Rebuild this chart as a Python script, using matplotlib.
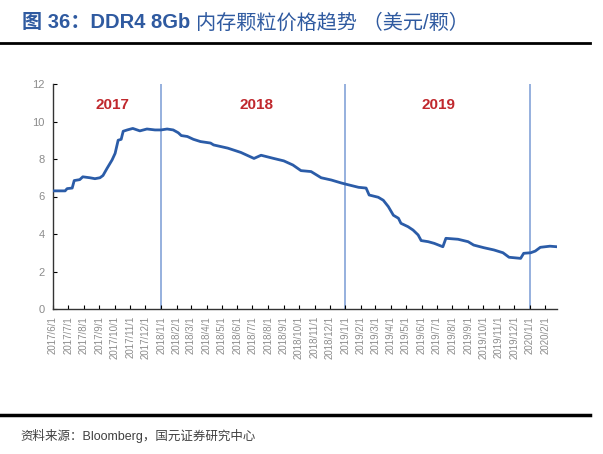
import matplotlib
matplotlib.use("Agg")
import matplotlib.pyplot as plt
import pandas as pd

plt.rcParams['font.family'] = ['Liberation Sans', 'Noto Sans CJK SC', 'DejaVu Sans']

dates = ["2017-06-01", "2017-06-25", "2017-06-29", "2017-07-09", "2017-07-13", "2017-07-24",
         "2017-07-30", "2017-08-13", "2017-08-23", "2017-09-02", "2017-09-08", "2017-09-16",
         "2017-09-26", "2017-10-02", "2017-10-08", "2017-10-14", "2017-10-18", "2017-10-26",
         "2017-11-06", "2017-11-20", "2017-12-04", "2017-12-20", "2018-01-01", "2018-01-13",
         "2018-01-25", "2018-02-04", "2018-02-10", "2018-02-22", "2018-03-06", "2018-03-20",
         "2018-04-09", "2018-04-15", "2018-05-13", "2018-06-08", "2018-07-04", "2018-07-18",
         "2018-08-12", "2018-09-01", "2018-09-19", "2018-10-05", "2018-10-25", "2018-11-14",
         "2018-12-04", "2018-12-24", "2019-01-03", "2019-01-27", "2019-02-11", "2019-02-17",
         "2019-03-07", "2019-03-17", "2019-03-27", "2019-04-06", "2019-04-16", "2019-04-21",
         "2019-05-05", "2019-05-15", "2019-05-25", "2019-05-31", "2019-06-14", "2019-06-26",
         "2019-07-13", "2019-07-19", "2019-08-12", "2019-09-01", "2019-09-12", "2019-10-02",
         "2019-10-22", "2019-11-09", "2019-11-21", "2019-12-14", "2019-12-20", "2020-01-03",
         "2020-01-12", "2020-01-22", "2020-02-10", "2020-02-24"]
prices = [6.30, 6.30, 6.42, 6.45, 6.85, 6.90,
          7.05, 7.00, 6.95, 7.00, 7.12, 7.50,
          7.95, 8.30, 9.00, 9.05, 9.48, 9.55,
          9.63, 9.50, 9.60, 9.55, 9.55, 9.60,
          9.55, 9.40, 9.25, 9.20, 9.05, 8.93,
          8.85, 8.75, 8.58, 8.35, 8.03, 8.20,
          8.03, 7.90, 7.68, 7.38, 7.33, 7.00,
          6.88, 6.72, 6.65, 6.49, 6.45, 6.08,
          5.96, 5.80, 5.46, 5.00, 4.84, 4.57,
          4.39, 4.21, 3.95, 3.65, 3.59, 3.50,
          3.32, 3.77, 3.72, 3.59, 3.41, 3.27,
          3.15, 3.00, 2.76, 2.70, 2.97, 3.00,
          3.09, 3.29, 3.35, 3.32]

tick_dates = pd.date_range("2017-06-01", "2020-02-01", freq="MS")
tick_labels = [f"{d.year}/{d.month}/1" for d in tick_dates]
year_lines = ["2018-01-01", "2019-01-01", "2020-01-01"]
year_labels = ["2017", "2018", "2019"]
year_label_dates = ["2017-09-26", "2018-07-08", "2019-07-05"]

x = pd.to_datetime(dates)

fig = plt.figure(figsize=(6.03, 4.54), dpi=100)
ax = fig.add_axes([53/603, 1-309/454, (557-53)/603, (309-84)/454])

for d in year_lines:
    ax.axvline(pd.Timestamp(d), color='#8eaadb', lw=1.3, zorder=1)

ax.plot(x, prices, color='#2b5ca8', lw=2.0, zorder=3)

ax.set_xlim(pd.Timestamp("2017-06-01"), pd.Timestamp("2020-02-24"))
ax.set_ylim(0, 12)
ax.set_yticks(range(0, 13, 2))
ax.set_xticks(tick_dates)
ax.set_xticklabels(tick_labels, rotation=90, fontsize=7, color='#8c8c8c')
ax.tick_params(axis='y', direction='in', length=3, labelsize=8, labelcolor='#8c8c8c', pad=6)
ax.tick_params(axis='x', direction='in', length=3, pad=5)

for s in ['top', 'right']:
    ax.spines[s].set_visible(False)
for s in ['left', 'bottom']:
    ax.spines[s].set_color('#333333')
    ax.spines[s].set_linewidth(1.0)

for lab, d in zip(year_labels, year_label_dates):
    ax.text(pd.Timestamp(d), 10.9, lab, color='#c0282d', fontsize=11, fontweight='bold',
            ha='center', va='center')

t1 = fig.text(22/603, 1-23/454, "图 36：DDR4 8Gb", color='#2f5aa0',
              fontsize=14.5, fontweight='bold', ha='left', va='center')
fig.canvas.draw()
bb = t1.get_window_extent()
fig.text((bb.x1 + 6)/603, 1-23/454, "内存颗粒价格趋势 （美元/颗）", color='#2f5aa0',
         fontsize=14.5, fontweight='normal', ha='left', va='center')
fig.add_artist(plt.Line2D([0, 590/603], [1-43/454, 1-43/454], color='black', lw=2))
fig.add_artist(plt.Line2D([0, 590/603], [1-415/454, 1-415/454], color='black', lw=2.5))
fig.text(20/603, 1-436/454, "资料来源：Bloomberg，国元证券研究中心", color='#404040',
         fontsize=9, ha='left', va='center')

fig.savefig("out.png", dpi=100)
